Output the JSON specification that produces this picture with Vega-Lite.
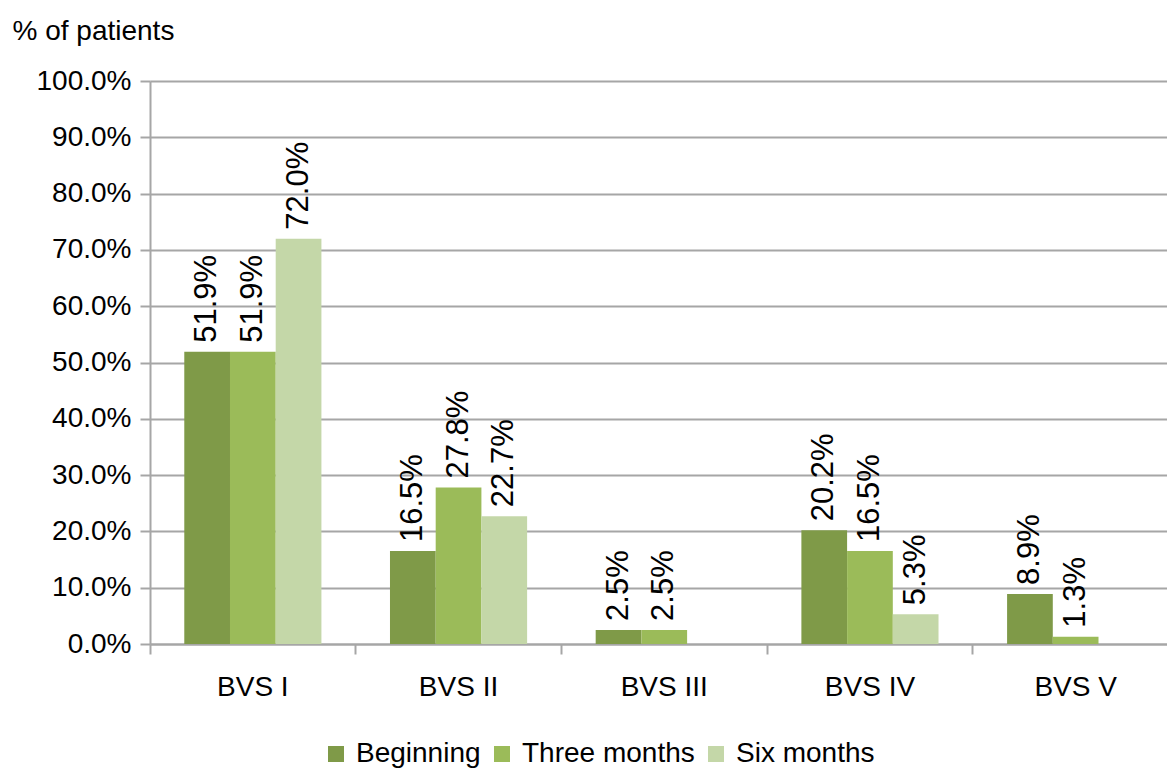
{
  "$schema": "https://vega.github.io/schema/vega-lite/v6.json",
  "width": 1017,
  "height": 563,
  "autosize": {"type": "none"},
  "padding": {"left": 150, "top": 81, "right": 0, "bottom": 125},
  "background": "white",
  "config": {"view": {"stroke": null}, "font": "Liberation Sans"},
  "data": {"values": [
    {"group": "BVS I", "period": "Beginning", "value": 0.519},
    {"group": "BVS I", "period": "Three months", "value": 0.519},
    {"group": "BVS I", "period": "Six months", "value": 0.72},
    {"group": "BVS II", "period": "Beginning", "value": 0.165},
    {"group": "BVS II", "period": "Three months", "value": 0.278},
    {"group": "BVS II", "period": "Six months", "value": 0.227},
    {"group": "BVS III", "period": "Beginning", "value": 0.025},
    {"group": "BVS III", "period": "Three months", "value": 0.025},
    {"group": "BVS III", "period": "Six months", "value": 0},
    {"group": "BVS IV", "period": "Beginning", "value": 0.202},
    {"group": "BVS IV", "period": "Three months", "value": 0.165},
    {"group": "BVS IV", "period": "Six months", "value": 0.053},
    {"group": "BVS V", "period": "Beginning", "value": 0.089},
    {"group": "BVS V", "period": "Three months", "value": 0.013},
    {"group": "BVS V", "period": "Six months", "value": 0}
  ]},
  "encoding": {
    "x": {
      "field": "group", "type": "nominal",
      "sort": ["BVS I", "BVS II", "BVS III", "BVS IV", "BVS V"],
      "scale": {"range": [0, 1028.5], "paddingInner": 0, "paddingOuter": 0},
      "axis": {
        "title": null, "bandPosition": 0,
        "tickSize": 10, "tickColor": "#a6a6a6", "tickWidth": 2,
        "domainColor": "#a6a6a6", "domainWidth": 2,
        "labelFontSize": 28, "labelColor": "black", "labelPadding": 19,
        "labelAngle": 0, "grid": false
      }
    },
    "xOffset": {
      "field": "period", "type": "nominal",
      "sort": ["Beginning", "Three months", "Six months"],
      "scale": {"paddingOuter": 0.75, "paddingInner": 0}
    },
    "y": {
      "field": "value", "type": "quantitative",
      "scale": {"domain": [0, 1]},
      "axis": {
        "values": [0, 0.1, 0.2, 0.3, 0.4, 0.5, 0.6, 0.7, 0.8, 0.9, 1],
        "format": ".1%",
        "title": "% of patients", "titleAngle": 0, "titleAlign": "left",
        "titleBaseline": "alphabetic", "titleX": -138, "titleY": -42,
        "titleFontSize": 28, "titleFontWeight": "normal", "titleColor": "black",
        "labelFontSize": 28, "labelColor": "black", "labelPadding": 9,
        "tickSize": 10, "tickColor": "#a6a6a6", "tickWidth": 2,
        "domainColor": "#a6a6a6", "domainWidth": 2,
        "grid": true, "gridColor": "#a6a6a6", "gridWidth": 2
      }
    }
  },
  "layer": [
    {
      "mark": {"type": "bar"},
      "encoding": {
        "color": {
          "field": "period", "type": "nominal",
          "sort": ["Beginning", "Three months", "Six months"],
          "scale": {"domain": ["Beginning", "Three months", "Six months"], "range": ["#7f9a48", "#9bbb59", "#c4d7a8"]},
          "legend": {
            "orient": "none", "legendX": 172, "legendY": 659, "direction": "horizontal",
            "title": null, "symbolType": "square", "symbolSize": 256, "padding": 0,
            "symbolStrokeWidth": 0, "symbolOpacity": 1, "labelLimit": 400,
            "labelFontSize": 28, "labelColor": "black", "columnPadding": 7, "labelOffset": 6
          }
        }
      }
    },
    {
      "transform": [{"filter": "datum.value > 0"}],
      "mark": {"type": "text", "angle": 270, "align": "left", "baseline": "middle", "dx": 9, "fontSize": 31, "color": "black"},
      "encoding": {"text": {"field": "value", "type": "quantitative", "format": ".1%"}}
    }
  ]
}
